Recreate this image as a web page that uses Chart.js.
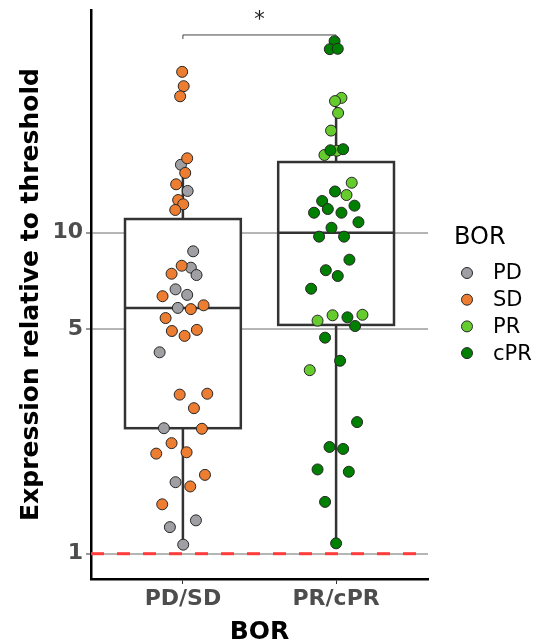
<!DOCTYPE html>
<html lang="en">
<head>
    <meta charset="UTF-8">
    <title>Expression by BOR</title>
    <script src="https://cdn.jsdelivr.net/npm/chart.js"></script>
    <style>
        body {
            margin: 0;
            background: #fff;
        }
        #wrap {
            width: 535px;
            height: 643px;
        }
    </style>
</head>
<body>
    <div id="wrap">
        <canvas id="borChart" width="535" height="643"></canvas>
    </div>
    <script>
// groups on the x axis (1 = PD/SD, 2 = PR/cPR)
const groupLabels = ['PD/SD', 'PR/cPR'];
const groupPos = [1, 2];

// box plot summary, one value per group
const q1 = [2.46, 5.16];
const median = [5.83, 10.0];
const q3 = [11.03, 16.6];
const whiskerLow = [1.067, 1.077];
const whiskerHigh = [17.05, 26.3];

// y ticks and threshold
const yTicks = [1, 5, 10];
const threshold = 1;
const sigLevel = 41.3;

// jittered points: x position, expression value
const pdX = [0.987, 1.031, 1.067, 1.052, 1.089, 0.952, 1.028, 0.967, 0.848, 0.876, 0.952, 1.085, 0.915, 1.002];
const pdY = [16.28, 13.49, 8.75, 7.78, 7.38, 6.66, 6.40, 5.83, 4.24, 2.46, 1.67, 1.27, 1.21, 1.067];

const sdX = [0.995, 1.005, 0.982, 1.028, 1.015, 0.956, 0.969, 1.002, 0.950, 0.992, 0.926, 0.867, 1.052, 1.135,
             0.887, 0.928, 1.091, 1.011, 0.979, 1.159, 1.072, 1.124, 0.926, 0.826, 1.024, 1.144, 1.048, 0.865];
const sdY = [31.7, 28.6, 26.6, 17.05, 15.35, 14.15, 12.64, 12.26, 11.77, 7.89, 7.45, 6.34, 5.78, 5.94,
             5.42, 4.94, 4.98, 4.77, 3.13, 3.15, 2.84, 2.45, 2.21, 2.05, 2.07, 1.76, 1.62, 1.425];

const prX = [2.035, 1.993, 2.013, 1.967, 2.005, 1.924, 2.102, 2.068, 1.977, 1.879, 2.172, 1.828];
const prY = [26.3, 25.7, 23.6, 20.8, 18.0, 17.46, 14.31, 13.1, 5.53, 5.32, 5.55, 3.73];

const cprX = [1.990, 1.959, 2.011, 1.963, 2.046, 1.993, 1.909, 2.120, 1.946, 1.856, 2.035, 2.146, 1.970, 1.889, 2.052,
              2.087, 1.933, 2.011, 1.837, 2.074, 2.124, 1.928, 2.026, 2.137, 1.957, 2.046, 1.879, 2.083, 1.928, 2.000];
const cprY = [39.5, 37.3, 37.4, 18.06, 18.2, 13.44, 12.55, 12.14, 11.85, 11.54, 11.54, 10.78, 10.36, 9.72, 9.72,
              8.24, 7.64, 7.33, 6.69, 5.45, 5.12, 4.71, 3.99, 2.57, 2.15, 2.12, 1.83, 1.80, 1.45, 1.077];

const legendNames = ['PD', 'SD', 'PR', 'cPR'];
const legendColors = ['#a0a0a4', '#ed7d31', '#66cc2e', '#008000'];

const FONT = "'DejaVu Sans', sans-serif";

function toPoints(xs, ys) {
    return xs.map((x, i) => ({ x: x, y: ys[i] }));
}

function pointSet(label, xs, ys, color, order) {
    return {
        type: 'scatter',
        label: label,
        data: toPoints(xs, ys),
        backgroundColor: color,
        borderColor: '#262626',
        borderWidth: 1,
        pointRadius: 5.5,
        pointHoverRadius: 5.5,
        order: order
    };
}

// box, whiskers and median drawn with the chart's scales
const boxPlugin = {
    id: 'boxes',
    beforeDatasetsDraw(chart) {
        const { ctx, scales: { x, y } } = chart;
        const half = 0.378;
        ctx.save();
        ctx.strokeStyle = '#333333';
        ctx.lineWidth = 2.5;
        groupPos.forEach((g, i) => {
            const cx = x.getPixelForValue(g);
            const l = x.getPixelForValue(g - half);
            const r = x.getPixelForValue(g + half);
            const top = y.getPixelForValue(q3[i]);
            const mid = y.getPixelForValue(median[i]);
            const bot = y.getPixelForValue(q1[i]);
            ctx.beginPath();
            ctx.moveTo(cx, y.getPixelForValue(whiskerHigh[i]));
            ctx.lineTo(cx, top);
            ctx.moveTo(cx, bot);
            ctx.lineTo(cx, y.getPixelForValue(whiskerLow[i]));
            ctx.stroke();
            ctx.fillStyle = '#ffffff';
            ctx.fillRect(l, top, r - l, bot - top);
            ctx.strokeRect(l, top, r - l, bot - top);
            ctx.beginPath();
            ctx.moveTo(l, mid);
            ctx.lineTo(r, mid);
            ctx.stroke();
        });
        ctx.restore();
    }
};

// significance bracket + legend
const extrasPlugin = {
    id: 'extras',
    afterDraw(chart) {
        const { ctx, scales: { x, y } } = chart;
        ctx.save();
        const x1 = x.getPixelForValue(groupPos[0]);
        const x2 = x.getPixelForValue(groupPos[1]);
        const yb = y.getPixelForValue(sigLevel);
        ctx.strokeStyle = '#444444';
        ctx.lineWidth = 1;
        ctx.beginPath();
        ctx.moveTo(x1, yb + 4);
        ctx.lineTo(x1, yb);
        ctx.lineTo(x2, yb);
        ctx.lineTo(x2, yb + 4);
        ctx.stroke();
        ctx.fillStyle = '#222222';
        ctx.font = '21px ' + FONT;
        ctx.textAlign = 'center';
        ctx.textBaseline = 'alphabetic';
        ctx.fillText('*', (x1 + x2) / 2, yb - 9);

        // legend
        ctx.textAlign = 'left';
        ctx.textBaseline = 'middle';
        ctx.fillStyle = '#000000';
        ctx.font = '24px ' + FONT;
        ctx.fillText('BOR', 454, 238);
        ctx.font = '21px ' + FONT;
        legendNames.forEach((name, i) => {
            const cy = 273 + i * 26.7;
            ctx.beginPath();
            ctx.arc(467, cy, 5.5, 0, Math.PI * 2);
            ctx.fillStyle = legendColors[i];
            ctx.fill();
            ctx.strokeStyle = '#262626';
            ctx.stroke();
            ctx.fillStyle = '#000000';
            ctx.fillText(name, 493, cy + 1);
        });
        ctx.restore();
    }
};

const ctx = document.getElementById('borChart').getContext('2d');
const borChart = new Chart(ctx, {
    data: {
        datasets: [
            pointSet('PD', pdX, pdY, legendColors[0], 3),
            pointSet('SD', sdX, sdY, legendColors[1], 2),
            pointSet('PR', prX, prY, legendColors[2], 1),
            pointSet('cPR', cprX, cprY, legendColors[3], 0),
            {
                type: 'line',
                label: 'threshold',
                data: [{ x: 0.4, y: threshold }, { x: 2.6, y: threshold }],
                borderColor: '#ff3b3b',
                borderWidth: 3,
                borderDash: [13, 13],
                pointRadius: 0,
                order: 10
            }
        ]
    },
    options: {
        responsive: false,
        animation: false,
        layout: {
            padding: { top: 10, right: 107, left: 0, bottom: 0 }
        },
        plugins: {
            legend: { display: false },
            tooltip: { enabled: false }
        },
        scales: {
            x: {
                type: 'linear',
                min: 0.4,
                max: 2.6,
                afterBuildTicks: (scale) => {
                    scale.ticks = groupPos.map(v => ({ value: v }));
                },
                afterFit: (scale) => {
                    scale.height = 64;
                    scale.paddingLeft = 0;
                    scale.paddingRight = 0;
                },
                ticks: {
                    callback: (v) => groupLabels[groupPos.indexOf(v)],
                    color: '#4d4d4d',
                    font: { family: FONT, size: 22, weight: 'bold' },
                    padding: 2,
                    maxRotation: 0
                },
                grid: {
                    drawOnChartArea: false,
                    drawTicks: true,
                    tickLength: 5,
                    tickColor: '#333333'
                },
                border: { display: true, color: '#000000', width: 2.5 },
                title: {
                    display: true,
                    text: 'BOR',
                    color: '#000000',
                    font: { family: FONT, size: 25, weight: 'bold' },
                    padding: { top: 0, bottom: -4 }
                }
            },
            y: {
                type: 'logarithmic',
                min: 0.834,
                max: 49.4,
                afterBuildTicks: (scale) => {
                    scale.ticks = yTicks.map(v => ({ value: v }));
                },
                afterFit: (scale) => {
                    scale.width = 91;
                    scale.paddingTop = 0;
                    scale.paddingBottom = 0;
                },
                ticks: {
                    callback: (v) => String(v),
                    color: '#4d4d4d',
                    font: { family: FONT, size: 22, weight: 'bold' },
                    padding: 3
                },
                grid: {
                    color: '#b5b5b5',
                    lineWidth: 2,
                    tickLength: 5,
                    tickColor: '#333333',
                    tickWidth: 1
                },
                border: { display: true, color: '#000000', width: 2.5 },
                title: {
                    display: true,
                    text: 'Expression relative to threshold',
                    color: '#000000',
                    font: { family: FONT, size: 25, weight: 'bold' },
                    padding: { top: 16, bottom: 0 }
                }
            }
        }
    },
    plugins: [boxPlugin, extrasPlugin]
});
    </script>
</body>
</html>
